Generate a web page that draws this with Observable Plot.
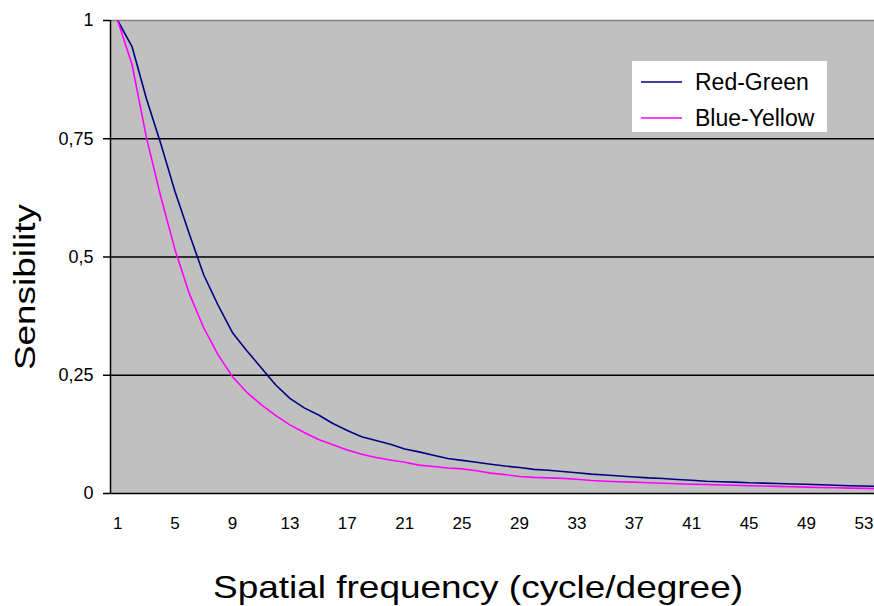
<!DOCTYPE html>
<html><head><meta charset="utf-8">
<script src="https://cdn.jsdelivr.net/npm/d3@7"></script>
<script src="https://cdn.jsdelivr.net/npm/@observablehq/plot@0.6"></script>
<style>body{margin:0;background:#fff;}</style>
</head><body><div id="chart"></div>
<script>
const frequency = [1,2,3,4,5,6,7,8,9,10,11,12,13,14,15,16,17,18,19,20,21,22,23,24,25,26,27,28,29,30,31,32,33,34,35,36,37,38,39,40,41,42,43,44,45,46,47,48,49,50,51,52,53,54];
const redGreen = [1.0,0.945,0.835,0.74,0.638,0.548,0.462,0.398,0.34,0.302,0.266,0.23,0.201,0.181,0.166,0.148,0.133,0.12,0.112,0.104,0.094,0.088,0.081,0.074,0.07,0.066,0.062,0.058,0.055,0.051,0.049,0.0465,0.044,0.041,0.039,0.037,0.035,0.033,0.0317,0.0296,0.028,0.026,0.025,0.024,0.0226,0.022,0.021,0.020,0.0195,0.0184,0.0173,0.0165,0.0159,0.0152];
const blueYellow = [1.0,0.907,0.753,0.628,0.515,0.422,0.35,0.293,0.247,0.214,0.188,0.165,0.145,0.129,0.114,0.103,0.092,0.083,0.076,0.071,0.066,0.06,0.057,0.054,0.052,0.048,0.043,0.040,0.036,0.034,0.033,0.032,0.030,0.0275,0.026,0.025,0.024,0.0226,0.0216,0.0207,0.0197,0.019,0.018,0.0173,0.0165,0.0159,0.015,0.0142,0.0135,0.0127,0.012,0.0114,0.0108,0.0101];
const seriesNames = ["Red-Green", "Blue-Yellow"];
const seriesColors = ["#000080", "#ff00ff"];
const xTicks = [1,5,9,13,17,21,25,29,33,37,41,45,49,53];
const yTicks = [0, 0.25, 0.5, 0.75, 1];
const yTickLabels = ["0", "0,25", "0,5", "0,75", "1"];
const xTitle = "Spatial frequency (cycle/degree)";
const yTitle = "Sensibility";

const rows = frequency.flatMap((f, i) => [
  {f, v: redGreen[i], s: seriesNames[0]},
  {f, v: blueYellow[i], s: seriesNames[1]}
]);

const font = "'Liberation Sans', Arial, sans-serif";
const chart = Plot.plot({
  width: 874, height: 606,
  marginLeft: 110, marginTop: 20, marginBottom: 113, marginRight: 0,
  style: {fontFamily: font, background: "#fff", color: "#000", overflow: "visible"},
  x: {type: "linear", domain: [0.5, 53.74]},
  y: {domain: [0, 1]},
  color: {domain: seriesNames, range: seriesColors},
  marks: [
    Plot.frame({fill: "#c0c0c0", stroke: "none"}),
    Plot.ruleY([0.25, 0.5, 0.75], {stroke: "#000", strokeWidth: 1.4}),
    Plot.ruleY([1], {stroke: "#808080", strokeWidth: 1.5}),
    Plot.line(rows, {x: "f", y: "v", z: "s", stroke: "s", strokeWidth: 1.6, clip: true}),
    Plot.ruleX([0.5], {stroke: "#000", strokeWidth: 1.5}),
    Plot.ruleY([0], {stroke: "#000", strokeWidth: 1.5}),
    Plot.axisY(yTicks, {tickSize: 7, tickPadding: 10, fontSize: 18, strokeWidth: 1.5,
      tickFormat: d => yTickLabels[yTicks.indexOf(d)], label: null}),
    Plot.axisX(xTicks, {tickSize: 0, tickPadding: 23, fontSize: 17, label: null})
  ]
});
document.getElementById("chart").appendChild(chart);

const svg = d3.select(chart);
svg.append("text")
  .attr("transform", "translate(35,287) rotate(-90)")
  .attr("text-anchor", "middle")
  .attr("font-family", font).attr("font-size", 30)
  .attr("textLength", 166).attr("lengthAdjust", "spacingAndGlyphs")
  .attr("fill", "#000")
  .text(yTitle);
svg.append("text")
  .attr("x", 478).attr("y", 598)
  .attr("text-anchor", "middle")
  .attr("font-family", font).attr("font-size", 32)
  .attr("textLength", 530).attr("lengthAdjust", "spacingAndGlyphs")
  .attr("fill", "#000")
  .text(xTitle);

const lg = svg.append("g").attr("font-family", font).attr("font-size", 23).attr("text-anchor", "start");
lg.append("rect").attr("x", 632).attr("y", 61).attr("width", 195).attr("height", 71).attr("fill", "#fff");
seriesNames.forEach((name, i) => {
  const y = 82 + i * 36;
  lg.append("line").attr("x1", 641).attr("x2", 682).attr("y1", y).attr("y2", y)
    .attr("stroke", seriesColors[i]).attr("stroke-width", 1.6);
  lg.append("text").attr("x", 695).attr("y", y).attr("dy", "0.35em")
    .attr("text-anchor", "start").attr("fill", "#000").text(name);
});
</script>
</body></html>
